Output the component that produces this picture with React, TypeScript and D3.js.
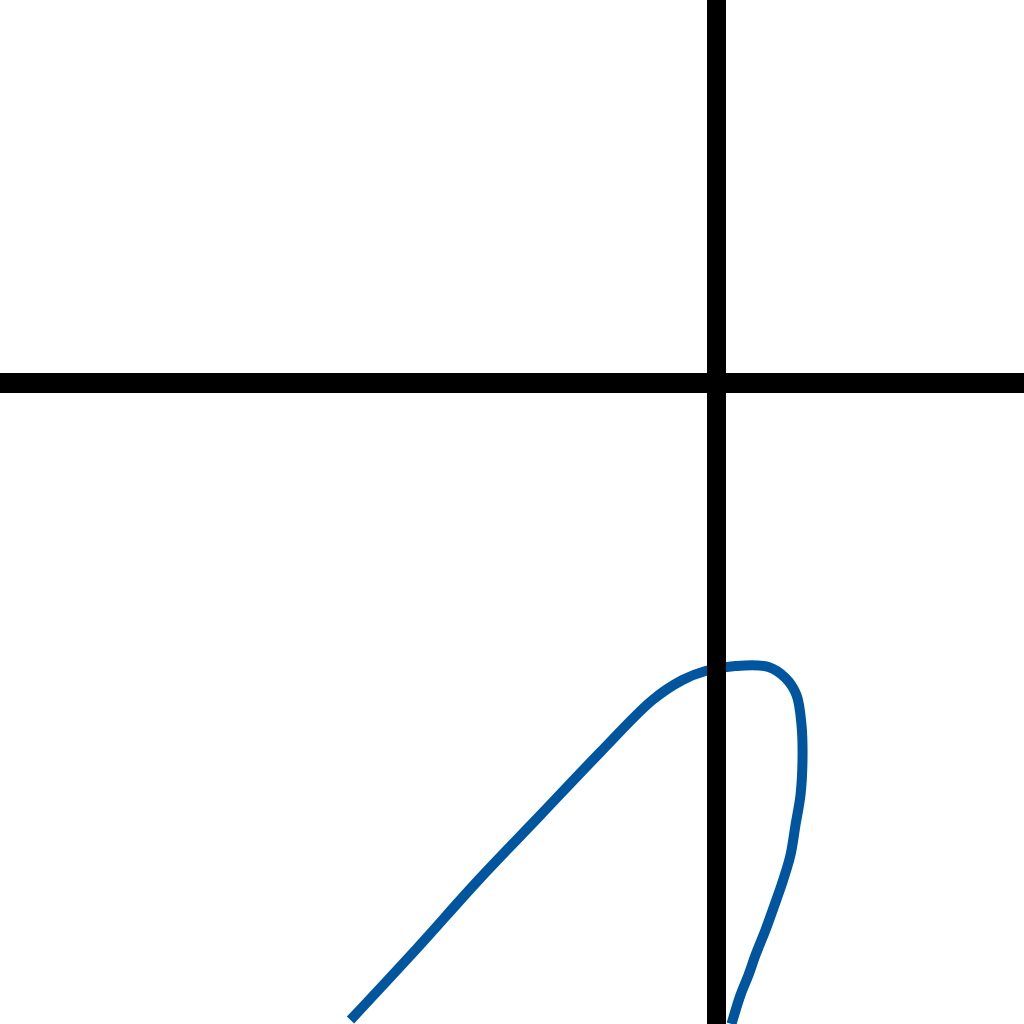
import React from "react";
import * as d3 from "d3";

// Curve samples in data units (axes cross at 0,0)
const curveX = [-3.66, -3.01, -2.38, -1.76, -1.16, -0.64, -0.34, -0.11, 0.19, 0.52, 0.69, 0.80, 0.85, 0.86, 0.84, 0.79, 0.74, 0.66, 0.58, 0.49, 0.39, 0.32, 0.24, 0.15];
const curveY = [-6.37, -5.67, -4.97, -4.32, -3.69, -3.17, -2.97, -2.88, -2.83, -2.84, -2.95, -3.12, -3.42, -3.77, -4.12, -4.42, -4.72, -4.99, -5.22, -5.47, -5.72, -5.92, -6.12, -6.41];

const W = 1024;
const H = 1024;

export default function App() {
  const x = d3.scaleLinear().domain([-7.165, 3.075]).range([0, W]);
  const y = d3.scaleLinear().domain([3.83, -6.41]).range([0, H]);
  const pts: [number, number][] = curveX.map((v, i) => [v, curveY[i]]);
  const line = d3
    .line<[number, number]>()
    .x((d) => x(d[0]))
    .y((d) => y(d[1]))
    .curve(d3.curveCatmullRom.alpha(0.5));
  return (
    <svg
      width={W}
      height={H}
      style={{ position: "fixed", left: 0, top: 0, background: "#fff" }}
    >
      <rect x={0} y={0} width={W} height={H} fill="#fff" />
      <path d={line(pts) || ""} fill="none" stroke="#00559F" strokeWidth={10} strokeLinejoin="round" />
      <line x1={0} x2={W} y1={y(0)} y2={y(0)} stroke="#000" strokeWidth={20} />
      <line x1={x(0)} x2={x(0)} y1={0} y2={H} stroke="#000" strokeWidth={19} />
    </svg>
  );
}
